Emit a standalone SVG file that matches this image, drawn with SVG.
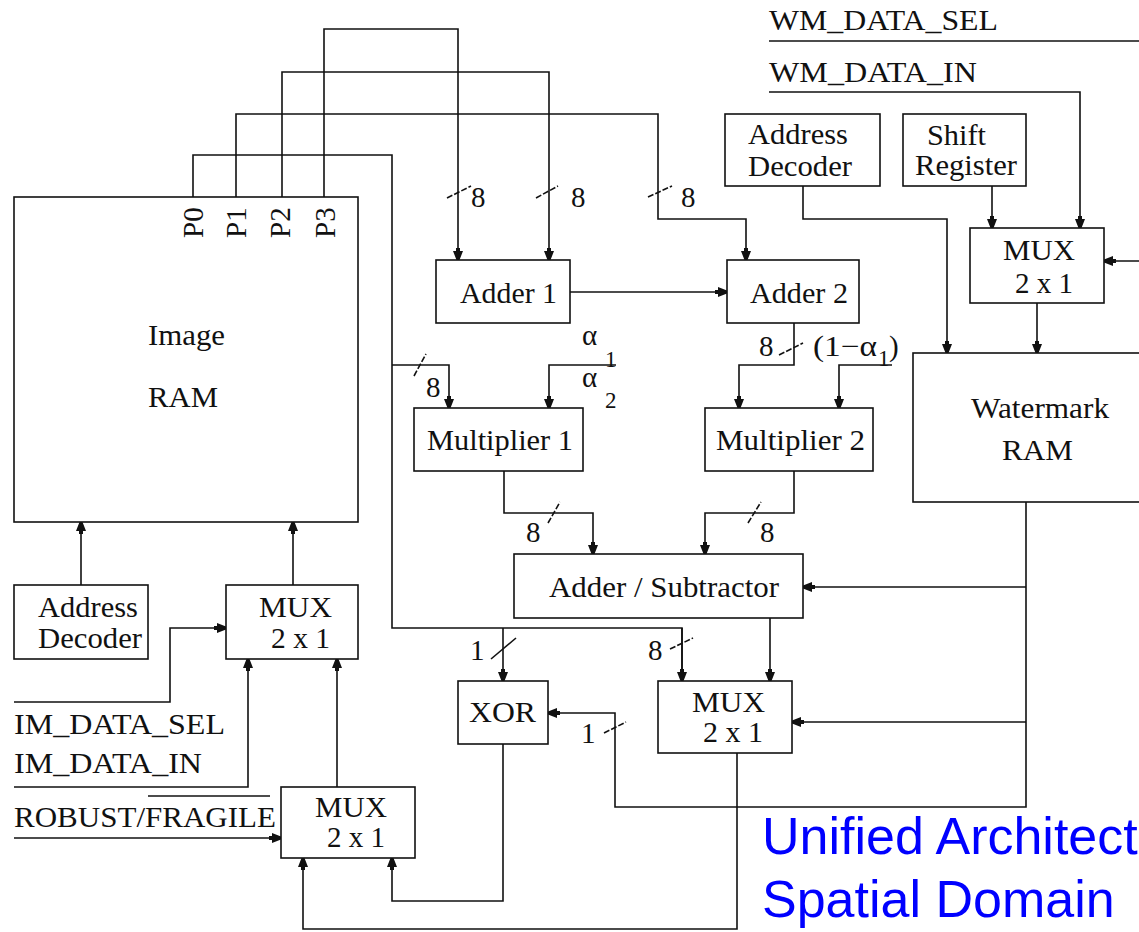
<svg xmlns="http://www.w3.org/2000/svg" width="1139" height="932" viewBox="0 0 1139 932">
<style>
.box{fill:#fff;stroke:#111;stroke-width:1.6}
.w{fill:none;stroke:#111;stroke-width:1.6}
.a{marker-end:url(#ah)}
.s{fill:none;stroke:#111;stroke-width:1.6;stroke-dasharray:6 2}
.t{font-family:"Liberation Serif","Times New Roman",serif;font-size:29px;fill:#111}
.sm{font-family:"Liberation Serif","Times New Roman",serif;font-size:23px;fill:#111}
.title{font-family:"Liberation Sans",Arial,sans-serif;font-size:52px;fill:#0000ff}
</style>
<defs>
<marker id="ah" markerUnits="userSpaceOnUse" markerWidth="14" markerHeight="12" viewBox="0 -6 14 12" refX="12" refY="0" orient="auto">
<path d="M0,-2 L3,-2 L3,-5 L12,-1.5 L12,1.5 L3,5 L3,2 L0,2 Z" fill="#111"/>
</marker>
</defs>
<rect width="1139" height="932" fill="#fff"/>

<g id="connectors">
<path class="w" d="M193,197 V155 H392 V628 H682 V681"/>
<path class="w a" d="M682,628 V681"/>
<path class="w a" d="M392,365 H449 V408"/>
<path class="w a" d="M503,628 V681"/>
<path class="w a" d="M236,197 V114 H658 V219 H746 V260"/>
<path class="w a" d="M282,197 V72 H549 V260"/>
<path class="w a" d="M324,197 V29 H458 V260"/>
<path class="w a" d="M570,292 H727"/>
<path class="w a" d="M794,323 V365 H739 V408"/>
<path class="w a" d="M616,365 H549 V408"/>
<path class="w a" d="M892,365 H839 V408"/>
<path class="w a" d="M504,471 V513 H593 V554"/>
<path class="w a" d="M794,471 V513 H705 V554"/>
<path class="w a" d="M770,618 V681"/>
<path class="w a" d="M1026,502 V807 H615 V713 H548"/>
<path class="w a" d="M1026,587 H803"/>
<path class="w a" d="M1026,722 H792"/>
<path class="w a" d="M503,744 V901 H392 V858"/>
<path class="w a" d="M737,753 V929 H303 V858"/>
<path class="w a" d="M337,787 V659"/>
<path class="w a" d="M14,787 H248 V659"/>
<path class="w a" d="M14,702 H170 V628 H226"/>
<path class="w a" d="M14,838 H281"/>
<path class="w a" d="M81,585 V522"/>
<path class="w a" d="M293,585 V522"/>
<path class="w" d="M769,41 H1139"/>
<path class="w a" d="M769,92 H1080 V228"/>
<path class="w a" d="M992,186 V228"/>
<path class="w a" d="M803,186 V219 H947 V353"/>
<path class="w a" d="M1037,303 V353"/>
<path class="w a" d="M1139,261 H1104"/>
<path class="w" d="M148,796 H270"/>
<!-- bus width slashes -->
<path class="s" d="M447,198 L471,186"/>
<path class="s" d="M536,198 L558,186"/>
<path class="s" d="M648,197 L672,186"/>
<path class="s" d="M414,376 L426,354"/>
<path class="s" d="M779,355 L803,343"/>
<path class="s" d="M548,523 L560,502"/>
<path class="s" d="M748,523 L761,502"/>
<path class="w" d="M491,659 L516,638"/>
<path class="s" d="M670,649 L693,638"/>
<path class="s" d="M604,733 L626,722"/>
</g>

<g id="labels">
<text class="t" x="769" y="30" textLength="229" lengthAdjust="spacingAndGlyphs">WM_DATA_SEL</text>
<text class="t" x="769" y="82" textLength="208" lengthAdjust="spacingAndGlyphs">WM_DATA_IN</text>
<text class="t" x="14" y="734" textLength="211" lengthAdjust="spacingAndGlyphs">IM_DATA_SEL</text>
<text class="t" x="14" y="773" textLength="188" lengthAdjust="spacingAndGlyphs">IM_DATA_IN</text>
<text class="t" x="14" y="827" textLength="262" lengthAdjust="spacingAndGlyphs">ROBUST/FRAGILE</text>
<text class="t" x="471" y="207">8</text>
<text class="t" x="571" y="207">8</text>
<text class="t" x="681" y="207">8</text>
<text class="t" x="426" y="397">8</text>
<text class="t" x="582" y="345">α</text>
<text class="sm" x="605" y="367">1</text>
<text class="t" x="582" y="387">α</text>
<text class="sm" x="605" y="408">2</text>
<text class="t" x="759" y="356">8</text>
<text class="t" x="813" y="356" textLength="64" lengthAdjust="spacingAndGlyphs">(1−α</text>
<text class="sm" x="878" y="366" font-size="18">1</text>
<text class="t" x="889" y="356">)</text>
<text class="t" x="526" y="542">8</text>
<text class="t" x="760" y="542">8</text>
<text class="t" x="470" y="660">1</text>
<text class="t" x="648" y="660">8</text>
<text class="t" x="581" y="743">1</text>
<text class="title" x="762" y="854">Unified Architect</text>
<text class="title" x="762" y="917">Spatial Domain</text>
</g>

<g id="image-ram">
<rect class="box" x="14" y="197" width="344" height="325"/>
<text class="t" x="148" y="345" textLength="77" lengthAdjust="spacingAndGlyphs">Image</text>
<text class="t" x="148" y="407" textLength="70" lengthAdjust="spacingAndGlyphs">RAM</text>
<text class="t" font-size="27" transform="translate(203,238) rotate(-90)">P0</text>
<text class="t" font-size="27" transform="translate(246,238) rotate(-90)">P1</text>
<text class="t" font-size="27" transform="translate(290,238) rotate(-90)">P2</text>
<text class="t" font-size="27" transform="translate(335,238) rotate(-90)">P3</text>
</g>

<g id="adder1">
<rect class="box" x="436" y="260" width="134" height="63"/>
<text class="t" x="460" y="303" textLength="97" lengthAdjust="spacingAndGlyphs">Adder 1</text>
</g>
<g id="adder2">
<rect class="box" x="727" y="260" width="132" height="63"/>
<text class="t" x="750" y="303" textLength="98" lengthAdjust="spacingAndGlyphs">Adder 2</text>
</g>
<g id="multiplier1">
<rect class="box" x="414" y="408" width="169" height="63"/>
<text class="t" x="427" y="450" textLength="146" lengthAdjust="spacingAndGlyphs">Multiplier 1</text>
</g>
<g id="multiplier2">
<rect class="box" x="705" y="408" width="168" height="63"/>
<text class="t" x="716" y="450" textLength="149" lengthAdjust="spacingAndGlyphs">Multiplier 2</text>
</g>
<g id="adder-subtractor">
<rect class="box" x="514" y="554" width="289" height="64"/>
<text class="t" x="549" y="597" textLength="230" lengthAdjust="spacingAndGlyphs">Adder / Subtractor</text>
</g>
<g id="xor">
<rect class="box" x="458" y="681" width="90" height="63"/>
<text class="t" x="469" y="722" textLength="67" lengthAdjust="spacingAndGlyphs">XOR</text>
</g>
<g id="mux-mid">
<rect class="box" x="658" y="681" width="134" height="72"/>
<text class="t" x="692" y="712" textLength="73" lengthAdjust="spacingAndGlyphs">MUX</text>
<text class="t" x="703" y="742" textLength="60" lengthAdjust="spacingAndGlyphs">2 x 1</text>
</g>
<g id="watermark-ram">
<rect class="box" x="913" y="353" width="240" height="149"/>
<text class="t" x="971" y="418" textLength="138" lengthAdjust="spacingAndGlyphs">Watermark</text>
<text class="t" x="1002" y="460" textLength="71" lengthAdjust="spacingAndGlyphs">RAM</text>
</g>
<g id="mux-right">
<rect class="box" x="970" y="228" width="134" height="75"/>
<text class="t" x="1003" y="260" textLength="72" lengthAdjust="spacingAndGlyphs">MUX</text>
<text class="t" x="1015" y="293" textLength="58" lengthAdjust="spacingAndGlyphs">2 x 1</text>
</g>
<g id="address-decoder-right">
<rect class="box" x="725" y="114" width="155" height="72"/>
<text class="t" x="748" y="144" textLength="100" lengthAdjust="spacingAndGlyphs">Address</text>
<text class="t" x="748" y="176" textLength="104" lengthAdjust="spacingAndGlyphs">Decoder</text>
</g>
<g id="shift-register">
<rect class="box" x="903" y="114" width="123" height="72"/>
<text class="t" x="927" y="145" textLength="59" lengthAdjust="spacingAndGlyphs">Shift</text>
<text class="t" x="915" y="175" textLength="102" lengthAdjust="spacingAndGlyphs">Register</text>
</g>
<g id="address-decoder-left">
<rect class="box" x="14" y="585" width="134" height="74"/>
<text class="t" x="38" y="617" textLength="100" lengthAdjust="spacingAndGlyphs">Address</text>
<text class="t" x="38" y="648" textLength="104" lengthAdjust="spacingAndGlyphs">Decoder</text>
</g>
<g id="mux-left">
<rect class="box" x="226" y="585" width="132" height="74"/>
<text class="t" x="259" y="617" textLength="73" lengthAdjust="spacingAndGlyphs">MUX</text>
<text class="t" x="271" y="648" textLength="59" lengthAdjust="spacingAndGlyphs">2 x 1</text>
</g>
<g id="mux-bottom">
<rect class="box" x="281" y="787" width="134" height="71"/>
<text class="t" x="315" y="817" textLength="72" lengthAdjust="spacingAndGlyphs">MUX</text>
<text class="t" x="327" y="847" textLength="58" lengthAdjust="spacingAndGlyphs">2 x 1</text>
</g>
</svg>
